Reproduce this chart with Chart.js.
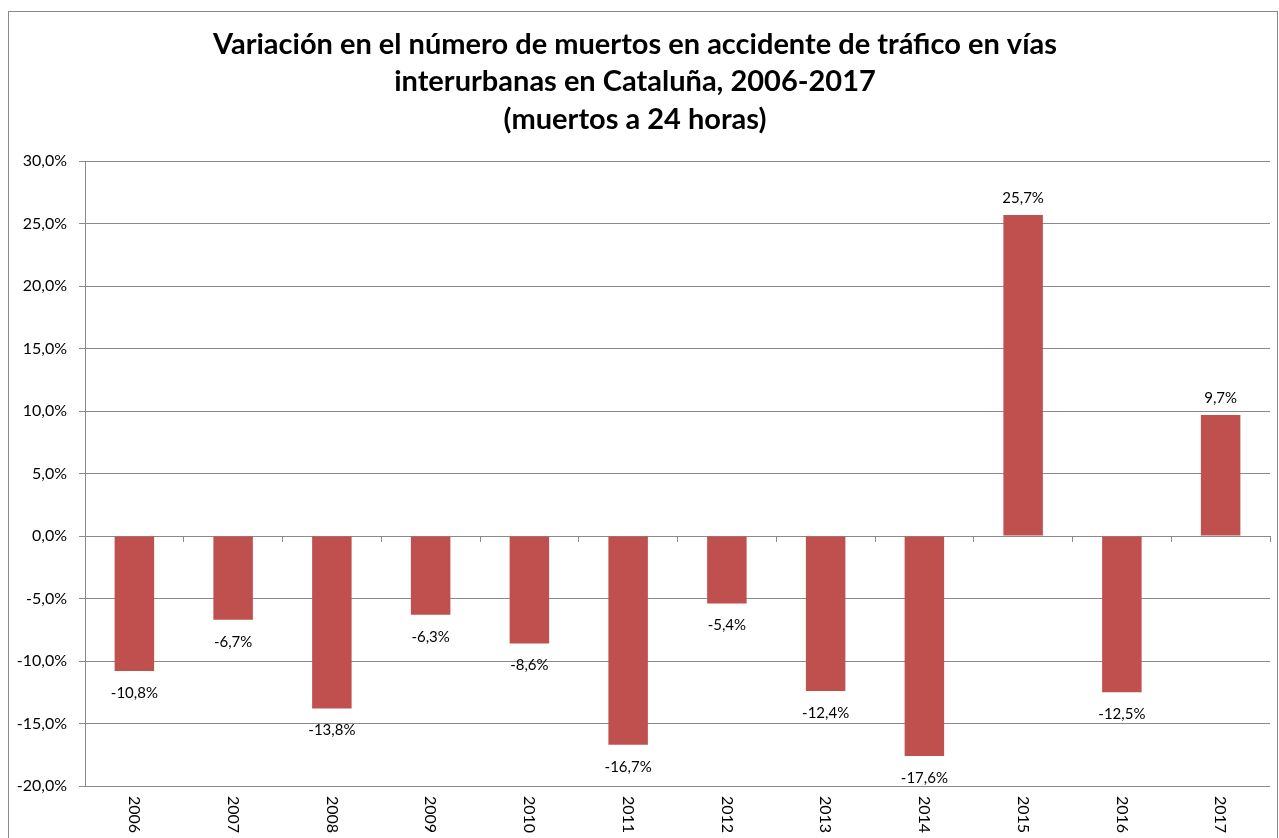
<!DOCTYPE html>
<html>
<head>
<meta charset="utf-8">
<script src="https://cdn.jsdelivr.net/npm/chart.js@4.4.1/dist/chart.umd.min.js"></script>
<style>
html,body{margin:0;padding:0;background:#fff;}
#wrap{width:1279px;height:838px;position:relative;}
</style>
</head>
<body>
<div id="wrap"><canvas id="c" width="1279" height="838"></canvas></div>
<script>
const categories = ['2006','2007','2008','2009','2010','2011','2012','2013','2014','2015','2016','2017'];
const values = [-10.8, -6.7, -13.8, -6.3, -8.6, -16.7, -5.4, -12.4, -17.6, 25.7, -12.5, 9.7];
const titleLines = ['Variación en el número de muertos en accidente de tráfico en vías', 'interurbanas en Cataluña, 2006-2017', '(muertos a 24 horas)'];
const yMin = -20, yMax = 30, yStep = 5;

const FONT = 'Lato, "Open Sans", sans-serif';
const fmt = v => v.toFixed(1).replace('.', ',') + '%';

const extras = {
  id: 'extras',
  beforeDraw(chart) {
    const ctx = chart.ctx;
    ctx.save();
    ctx.fillStyle = '#fff';
    ctx.fillRect(0, 0, chart.width, chart.height);
    ctx.strokeStyle = '#8a8a8a';
    ctx.lineWidth = 1;
    ctx.strokeRect(8.5, 11.5, 1269, 840);
    ctx.restore();
  },
  afterDraw(chart) {
    const ctx = chart.ctx;
    const xs = chart.scales.x;
    const meta = chart.getDatasetMeta(0);
    ctx.save();
    ctx.fillStyle = '#000';
    ctx.font = '16px ' + FONT;
    // category labels, rotated clockwise
    categories.forEach((c, i) => {
      const x = xs.getPixelForTick(i);
      ctx.save();
      ctx.translate(x, chart.chartArea.bottom + 10);
      ctx.rotate(Math.PI / 2);
      ctx.textAlign = 'left';
      ctx.textBaseline = 'middle';
      ctx.fillText(c, 0, 0);
      ctx.restore();
    });
    // data labels
    ctx.font = '15px ' + FONT;
    ctx.textAlign = 'center';
    ctx.textBaseline = 'middle';
    meta.data.forEach((bar, i) => {
      const v = values[i];
      const y = v < 0 ? bar.y + 22 : bar.y - 17;
      ctx.fillText(fmt(v), bar.x, y);
    });
    ctx.restore();
  }
};

new Chart(document.getElementById('c'), {
  type: 'bar',
  data: {
    labels: categories,
    datasets: [{
      data: values,
      backgroundColor: '#C0504D',
      borderWidth: 0,
      barPercentage: 0.4,
      categoryPercentage: 1.0
    }]
  },
  options: {
    responsive: false,
    animation: false,
    layout: { padding: { left: 0, right: 9, top: 0, bottom: 52 } },
    plugins: {
      legend: { display: false },
      tooltip: { enabled: false },
      title: {
        display: true,
        text: titleLines,
        color: '#000',
        font: { family: FONT, size: 29, weight: 'bold', lineHeight: 1.29 },
        padding: { top: 26, bottom: 23 }
      }
    },
    scales: {
      x: {
        position: { y: 0 },
        offset: true,
        ticks: { display: false },
        grid: {
          offset: true,
          drawOnChartArea: false,
          drawTicks: true,
          tickLength: 5,
          color: '#8a8a8a'
        },
        border: { display: true, color: '#8a8a8a' }
      },
      y: {
        min: yMin,
        max: yMax,
        afterFit(scale) { scale.width = 85; },
        ticks: {
          stepSize: yStep,
          color: '#000',
          padding: 12,
          font: { family: FONT, size: 16 },
          callback: v => fmt(v)
        },
        grid: { color: '#8a8a8a', tickLength: 6 },
        border: { display: true, color: '#8a8a8a' }
      }
    }
  },
  plugins: [extras]
});
</script>
</body>
</html>
